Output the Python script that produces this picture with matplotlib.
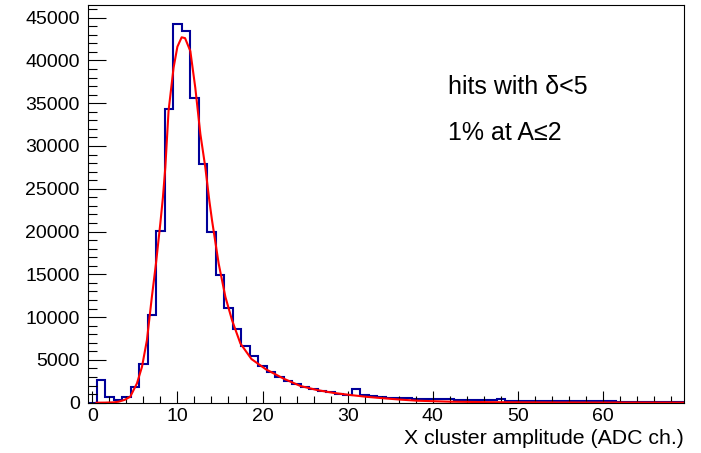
import numpy as np
import matplotlib
matplotlib.use("Agg")
import matplotlib.pyplot as plt
from matplotlib.ticker import MultipleLocator

plt.rcParams["font.family"] = ["Liberation Sans", "DejaVu Sans"]

# histogram: bin centres 0..69, width 1
bin_edges = np.arange(-0.5, 70.0, 1.0)
counts = [
    0, 2640, 630, 310, 630, 1790, 4540, 10220, 20030, 34290,
    44260, 43490, 35640, 27840, 19920, 14960, 11070, 8580, 6640, 5470,
    4310, 3610, 3000, 2530, 2180, 1870, 1600, 1400, 1210, 980,
    930, 1600, 860, 770, 680, 600, 560, 520, 480, 440,
    430, 420, 380, 360, 350, 340, 330, 300, 420, 250,
    220, 210, 200, 200, 190, 180, 180, 170, 160, 160,
    150, 150, 140, 140, 130, 130, 120, 30, 30, 30,
]

# fit curve
fit_x = [0.5, 1.5, 2.5, 3.1, 3.8, 4.46, 5.25, 5.84, 6.42, 7.0, 7.48, 8.0, 8.3, 8.58,
         8.96, 9.55, 10.0, 10.5, 10.9, 11.52, 12.1, 12.7, 13.28, 13.75, 14.07, 14.85,
         15.64, 16.42, 17.4, 18.7, 20.4, 22.5, 24.46, 26.4, 28.3, 30.3, 32.3, 34.3,
         36.2, 38.2, 42, 46, 50, 55, 60, 65, 69.5]
fit_y = [0, 10, 40, 120, 330, 700, 2260, 4190, 7300, 12350, 16240, 21000, 24000, 27490,
         34090, 39140, 41600, 42700, 42600, 41080, 36810, 31380, 27490, 23610, 21280, 16240,
         12350, 9630, 6920, 5100, 3900, 2800, 1950, 1480, 1150, 900, 680, 510,
         360, 230, 120, 70, 45, 25, 15, 10, 5]

fig = plt.figure(figsize=(7.01, 4.53), dpi=100)
ax = fig.add_axes([88 / 701, 50.3 / 453, 596 / 701, 397.7 / 453])

ax.stairs(counts, bin_edges, color="#000099", linewidth=1.5)
ax.plot(fit_x, fit_y, color="#ff0000", linewidth=1.5)

ax.set_xlim(-0.5, 69.5)
ax.set_ylim(0, max(counts) * 1.05)
ax.xaxis.set_major_locator(MultipleLocator(10))
ax.xaxis.set_minor_locator(MultipleLocator(2))
ax.yaxis.set_major_locator(MultipleLocator(5000))
ax.yaxis.set_minor_locator(MultipleLocator(1000))
ax.tick_params(axis="both", which="both", direction="in", labelsize=14, width=0.8)
ax.tick_params(axis="x", which="major", length=9, pad=4)
ax.tick_params(axis="x", which="minor", length=4.8)
ax.tick_params(axis="y", which="major", length=13, pad=6)
ax.tick_params(axis="y", which="minor", length=6.5)
for s in ax.spines.values():
    s.set_linewidth(0.8)

ax.set_xlabel("X cluster amplitude (ADC ch.)", fontsize=15.3, loc="right", labelpad=3)

ax.text(0.604, 0.776, "hits with \u03b4<5", transform=ax.transAxes, fontsize=18, va="baseline")
ax.text(0.604, 0.660, "1% at A\u22642", transform=ax.transAxes, fontsize=18, va="baseline")

fig.savefig("out.png", dpi=100)
